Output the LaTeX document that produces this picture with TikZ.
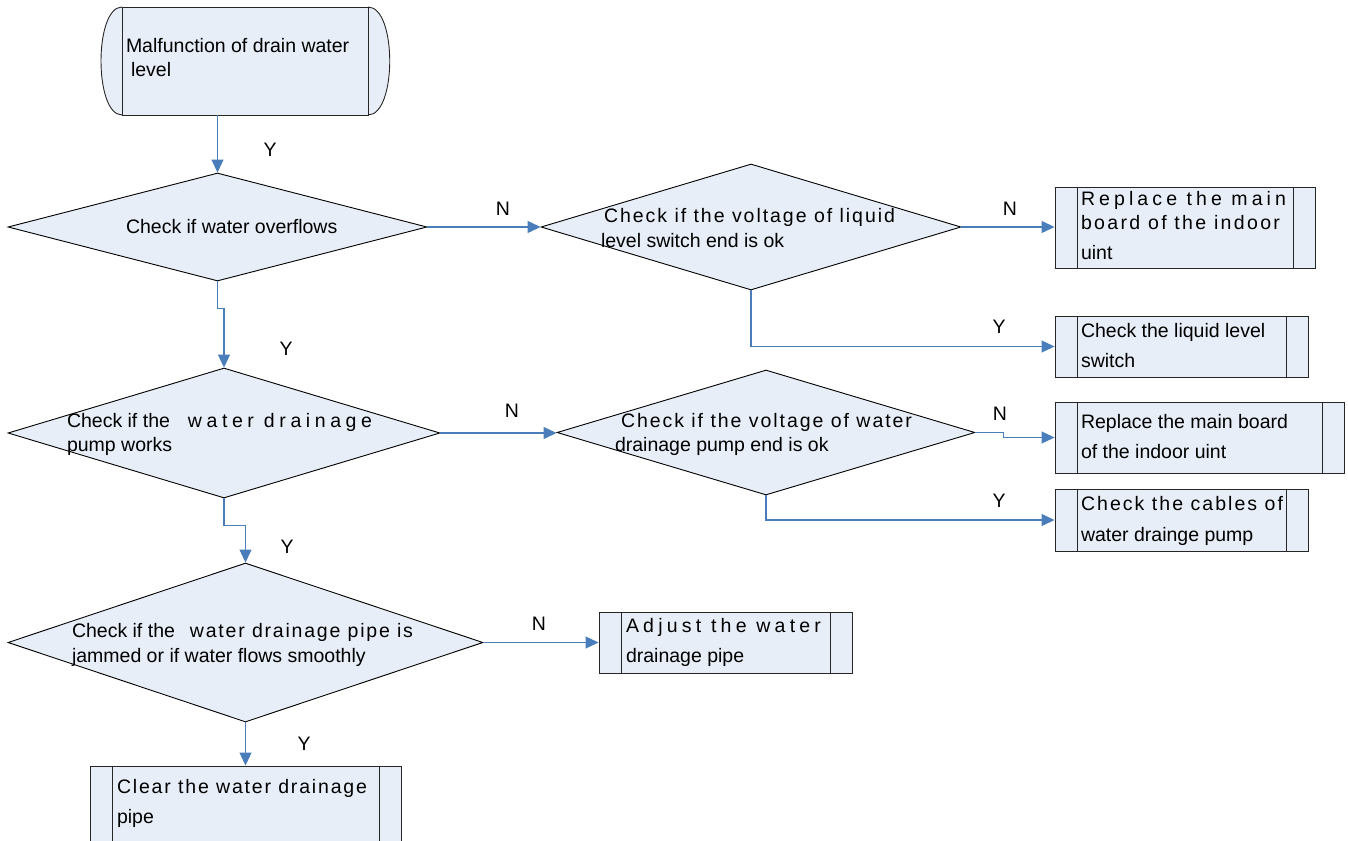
\documentclass[tikz,border=0pt]{standalone}
\usepackage{fontspec}
\setmainfont{Liberation Sans}
\usetikzlibrary{shapes.geometric,arrows.meta,calc}
\definecolor{boxfill}{RGB}{232,238,247}
\definecolor{lineblue}{RGB}{74,126,187}
\ExplSyntaxOn
\box_new:N \l__sp_box
\dim_new:N \l__spa_dim
\dim_new:N \l__spb_dim
\NewDocumentCommand \spreadto { m m }
  {
    \hbox_set:Nn \l__sp_box {#2}
    \dim_set:Nn \l__spa_dim { \box_wd:N \l__sp_box }
    \hbox_set:Nn \l__sp_box { \addfontfeature{LetterSpace=10} #2 }
    \dim_set:Nn \l__spb_dim { \box_wd:N \l__sp_box }
    \use:e
      {
        \exp_not:N \addfontfeature
          { LetterSpace = \fp_eval:n { round( 10 * ( \dim_to_fp:n {#1} - \dim_to_fp:n { \l__spa_dim } ) / ( \dim_to_fp:n { \l__spb_dim } - \dim_to_fp:n { \l__spa_dim } ), 2) } }
      }
    #2
  }
\ExplSyntaxOff
\newcommand\fs{\fontsize{19.5}{23.4}\selectfont}
\begin{document}
\begin{tikzpicture}[x=1pt,y=-1pt,
  txt/.style={anchor=base west,inner sep=0pt,outer sep=0pt,font=\fs},
  lbl/.style={inner sep=0pt,font=\fs},
  dia/.style={diamond,draw=black,fill=boxfill,line width=0.9pt,inner sep=0pt},
  proc/.style={rectangle,draw=black!85,fill=boxfill,line width=0.9pt,inner sep=0pt,
    path picture={\draw[black!85,line width=0.9pt]
      ([xshift=22pt]path picture bounding box.north west) -- ([xshift=22pt]path picture bounding box.south west)
      ([xshift=-22pt]path picture bounding box.north east) -- ([xshift=-22pt]path picture bounding box.south east);}},
  startbox/.style={rectangle,draw=black!85,fill=boxfill,line width=0.9pt,inner sep=0pt},
  arr/.style={draw=lineblue,line width=1.1pt,-{Triangle[length=13pt,width=12pt]}}]
\useasboundingbox (0,0) rectangle (1348,840);

% start terminator: caps first, then the box over them
\coordinate (snw) at (122,7);
\coordinate (ssw) at (122,115);
\coordinate (sne) at (368,7);
\coordinate (sse) at (368,115);
\filldraw[fill=boxfill,draw=black!85,line width=0.9pt]
  (snw) .. controls (94,7) and (94,115) .. (ssw);
\filldraw[fill=boxfill,draw=black!85,line width=0.9pt]
  (sne) .. controls (397,7) and (397,115) .. (sse);
\node[startbox,minimum width=246pt,minimum height=108pt] (start) at (245,61) {};

% diamonds
\node[dia,minimum width=419pt,minimum height=108pt] (d1) at (217.5,227) {};
\node[dia,minimum width=432pt,minimum height=130pt] (d2) at (224,433) {};
\node[dia,minimum width=475pt,minimum height=159pt] (d3) at (245.5,642.5) {};
\node[dia,minimum width=420pt,minimum height=126pt] (d4) at (751,227) {};
\node[dia,minimum width=418pt,minimum height=125pt] (d5) at (766,432.5) {};

% process boxes
\node[proc,minimum width=260pt,minimum height=81pt] (b1) at (1185,227.5) {};
\node[proc,minimum width=253pt,minimum height=61pt] (b2) at (1181.5,346.5) {};
\node[proc,minimum width=289pt,minimum height=71pt] (b3) at (1199.5,437.5) {};
\node[proc,minimum width=253pt,minimum height=62pt] (b4) at (1181.5,520) {};
\node[proc,minimum width=253pt,minimum height=61pt] (b5) at (725.5,642.5) {};
\node[proc,minimum width=311pt,minimum height=84pt] (b6) at (245.5,808) {};

% texts
\node[txt] (t0a) at (126,53) {Malfunction of drain water};
\node[txt] (t0b) at (131,77) {level};
\node[txt] (t1a) at (126,233) {Check if water overflows};
\node[txt] (t4a) at (604,222) {\spreadto{291pt}{Check if the voltage of liquid}};
\node[txt] (t4b) at (601,247) {level switch end is ok};
\node[txt] (t2a) at (67,427) {\makebox[121pt][l]{Check if the}\spreadto{184pt}{water drainage}};
\node[txt] (t2b) at (67,451) {pump works};
\node[txt] (t5a) at (621,427) {\spreadto{291pt}{Check if the voltage of water}};
\node[txt] (t5b) at (615,451) {drainage pump end is ok};
\node[txt] (t3a) at (72,637) {\makebox[118pt][l]{Check if the}\spreadto{223pt}{water drainage pipe is}};
\node[txt] (t3b) at (72,662) {jammed or if water flows smoothly};
\node[txt] (tb1a) at (1081,205) {\spreadto{205pt}{Replace the main}};
\node[txt] (tb1b) at (1081,229) {\spreadto{199pt}{board of the indoor}};
\node[txt] (tb1c) at (1081,259) {uint};
\node[txt] (tb2a) at (1081,337) {Check the liquid level};
\node[txt] (tb2b) at (1081,367) {switch};
\node[txt] (tb3a) at (1081,428) {Replace the main board};
\node[txt] (tb3b) at (1081,458) {of the indoor uint};
\node[txt] (tb4a) at (1081,510) {\spreadto{202pt}{Check the cables of}};
\node[txt] (tb4b) at (1081,541) {water drainge pump};
\node[txt] (tb5a) at (626,632) {\spreadto{195pt}{Adjust the water}};
\node[txt] (tb5b) at (626,662) {drainage pipe};
\node[txt] (tb6a) at (117,793) {\spreadto{250pt}{Clear the water drainage}};
\node[txt] (tb6b) at (117,823) {pipe};

% connectors
\draw[arr] (start.south -| d1.north) -- (d1.north);
\draw[arr] (d1.south) -- ++(0,27) -| (d2.north);
\draw[arr] (d2.south) -- ++(0,27) -| (d3.north);
\draw[arr] (d3.south) -- (b6.north);
\draw[arr] (d1.east) -- (d4.west);
\draw[arr] (d4.east) -- (d4.east -| b1.west);
\draw[arr] (d4.south) |- (b2.west);
\draw[arr] (d2.east) -- (d2.east -| d5.west);
\draw[arr] (d5.east) -- ++(28,0) |- (b3.west);
\draw[arr] (d5.south) |- (b4.west);
\draw[arr] (d3.east) -- (b5.west);

% labels
\node[lbl] (ly1) at (270,150) {Y};
\node[lbl] (ly2) at (286,349) {Y};
\node[lbl] (ly3) at (287,547) {Y};
\node[lbl] (ly4) at (304,744) {Y};
\node[lbl] (ln1) at (503,209) {N};
\node[lbl] (ln2) at (1010,209) {N};
\node[lbl] (ly5) at (999,327) {Y};
\node[lbl] (ln3) at (512,411) {N};
\node[lbl] (ln4) at (1000,414) {N};
\node[lbl] (ly6) at (999,501) {Y};
\node[lbl] (ln5) at (539,624) {N};
\end{tikzpicture}
\end{document}
